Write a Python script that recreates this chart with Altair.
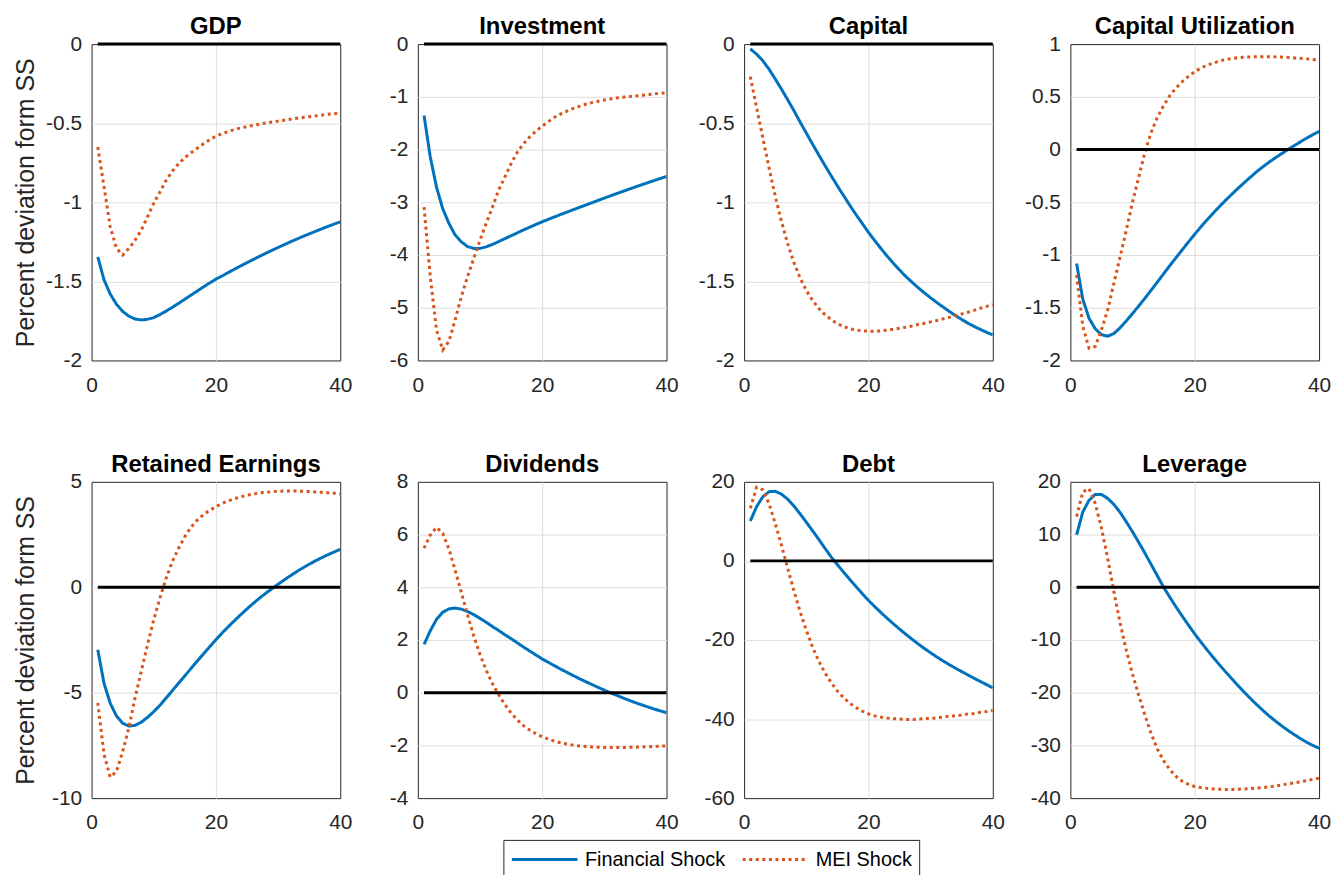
import altair as alt
import pandas as pd

x_vals = list(range(1, 41))

panels = ["GDP", "Investment", "Capital", "Capital Utilization",
          "Retained Earnings", "Dividends", "Debt", "Leverage"]

gdp_fin = [-1.345, -1.49, -1.58, -1.645, -1.69, -1.72, -1.738, -1.744, -1.74, -1.729,
           -1.71, -1.688, -1.664, -1.639, -1.613, -1.587, -1.561, -1.535, -1.510, -1.486,
           -1.466, -1.444, -1.423, -1.402, -1.382, -1.362, -1.342, -1.323, -1.304, -1.286,
           -1.268, -1.250, -1.233, -1.216, -1.200, -1.184, -1.168, -1.153, -1.138, -1.124]
gdp_mei = [-0.651, -0.90, -1.155, -1.29, -1.334, -1.292, -1.24, -1.176, -1.092, -1.007,
           -0.935, -0.861, -0.803, -0.756, -0.718, -0.687, -0.658, -0.63, -0.605, -0.582,
           -0.566, -0.552, -0.540, -0.530, -0.521, -0.513, -0.506, -0.499, -0.493, -0.487,
           -0.481, -0.475, -0.469, -0.464, -0.459, -0.454, -0.449, -0.444, -0.440, -0.436]

inv_fin = [-1.355, -2.14, -2.71, -3.12, -3.40, -3.62, -3.75, -3.84, -3.875, -3.875,
           -3.845, -3.80, -3.745, -3.69, -3.635, -3.58, -3.525, -3.472, -3.42, -3.37,
           -3.323, -3.277, -3.231, -3.186, -3.141, -3.097, -3.053, -3.009, -2.965, -2.92,
           -2.877, -2.834, -2.792, -2.75, -2.709, -2.668, -2.628, -2.588, -2.549, -2.51]
inv_mei = [-3.09, -4.41, -5.42, -5.80, -5.64, -5.23, -4.79, -4.41, -4.06, -3.72,
           -3.40, -3.09, -2.77, -2.52, -2.27, -2.05, -1.89, -1.76, -1.65, -1.556,
           -1.47, -1.386, -1.323, -1.27, -1.22, -1.18, -1.14, -1.11, -1.084, -1.06,
           -1.04, -1.02, -1.008, -0.996, -0.983, -0.97, -0.958, -0.945, -0.936, -0.926]

cap_fin = [-0.03, -0.063, -0.105, -0.158, -0.22, -0.284, -0.351, -0.42, -0.492, -0.562,
           -0.632, -0.70, -0.767, -0.832, -0.896, -0.958, -1.019, -1.078, -1.134, -1.19,
           -1.242, -1.292, -1.34, -1.385, -1.428, -1.469, -1.505, -1.54, -1.573, -1.604,
           -1.634, -1.662, -1.69, -1.716, -1.741, -1.764, -1.785, -1.804, -1.822, -1.838]
cap_mei = [-0.206, -0.40, -0.59, -0.78, -0.96, -1.12, -1.26, -1.38, -1.478, -1.557,
           -1.62, -1.67, -1.71, -1.742, -1.767, -1.786, -1.799, -1.808, -1.813, -1.815,
           -1.815, -1.813, -1.809, -1.803, -1.796, -1.79, -1.782, -1.773, -1.765, -1.756,
           -1.748, -1.737, -1.727, -1.716, -1.706, -1.695, -1.683, -1.67, -1.658, -1.645]

cu_fin = [-1.08, -1.42, -1.60, -1.70, -1.755, -1.77, -1.745, -1.69, -1.625, -1.555,
          -1.483, -1.41, -1.333, -1.256, -1.178, -1.10, -1.025, -0.95, -0.876, -0.803,
          -0.733, -0.666, -0.601, -0.539, -0.479, -0.422, -0.366, -0.312, -0.26, -0.208,
          -0.162, -0.118, -0.077, -0.038, 0.0, 0.037, 0.073, 0.108, 0.141, 0.172]
cu_mei = [-1.19, -1.678, -1.883, -1.867, -1.71, -1.52, -1.268, -1.016, -0.764, -0.497,
          -0.26, -0.024, 0.165, 0.307, 0.417, 0.512, 0.584, 0.644, 0.694, 0.738,
          0.773, 0.80, 0.82, 0.84, 0.855, 0.864, 0.871, 0.876, 0.879, 0.88,
          0.88, 0.88, 0.879, 0.877, 0.874, 0.869, 0.865, 0.86, 0.855, 0.849]

re_fin = [-2.96, -4.55, -5.5, -6.1, -6.45, -6.58, -6.55, -6.4, -6.17, -5.9,
          -5.6, -5.25, -4.9, -4.55, -4.2, -3.85, -3.5, -3.16, -2.82, -2.49,
          -2.17, -1.87, -1.58, -1.3, -1.03, -0.77, -0.52, -0.29, -0.07, 0.14,
          0.35, 0.55, 0.74, 0.92, 1.09, 1.25, 1.4, 1.54, 1.67, 1.8]
re_mei = [-5.48, -7.92, -9.0, -8.75, -7.8, -6.66, -5.24, -3.98, -2.72, -1.54,
          -0.51, 0.43, 1.22, 1.85, 2.40, 2.85, 3.18, 3.44, 3.65, 3.82,
          3.97, 4.1, 4.2, 4.29, 4.36, 4.42, 4.47, 4.5, 4.53, 4.55,
          4.56, 4.56, 4.56, 4.55, 4.54, 4.52, 4.5, 4.48, 4.46, 4.43]

div_fin = [1.83, 2.35, 2.78, 3.05, 3.18, 3.21, 3.17, 3.08, 2.96, 2.82,
           2.67, 2.51, 2.36, 2.2, 2.05, 1.89, 1.73, 1.58, 1.43, 1.28,
           1.15, 1.02, 0.89, 0.77, 0.65, 0.53, 0.42, 0.31, 0.2, 0.1,
           -0.01, -0.1, -0.2, -0.29, -0.38, -0.46, -0.54, -0.62, -0.69, -0.76]
div_mei = [5.48, 5.98, 6.27, 6.05, 5.45, 4.65, 3.8, 2.95, 2.15, 1.45,
           0.85, 0.35, -0.08, -0.45, -0.77, -1.03, -1.25, -1.42, -1.56, -1.67,
           -1.76, -1.84, -1.9, -1.95, -1.99, -2.02, -2.04, -2.06, -2.07, -2.08,
           -2.08, -2.08, -2.08, -2.07, -2.07, -2.06, -2.05, -2.04, -2.03, -2.02]

debt_fin = [10.08, 13.7, 16.2, 17.5, 17.6, 16.9, 15.6, 13.9, 11.9, 9.8,
            7.65, 5.46, 3.2, 1.0, -0.95, -2.85, -4.7, -6.5, -8.25, -10.0,
            -11.55, -13.05, -14.5, -15.9, -17.25, -18.55, -19.8, -21.0, -22.15, -23.25,
            -24.3, -25.3, -26.25, -27.15, -28.0, -28.85, -29.7, -30.5, -31.3, -32.1]
debt_mei = [13.3, 18.6, 18.0, 14.5, 9.5, 4.0, -1.8, -7.5, -12.8, -17.5,
            -21.8, -25.3, -28.3, -30.8, -32.9, -34.6, -36.0, -37.1, -38.0, -38.7,
            -39.2, -39.5, -39.75, -39.9, -40.0, -40.1, -40.1, -40.0, -39.9, -39.8,
            -39.7, -39.5, -39.3, -39.2, -39.0, -38.7, -38.6, -38.3, -38.1, -37.8]

lev_fin = [9.92, 14.3, 16.5, 17.6, 17.6, 16.85, 15.7, 14.2, 12.4, 10.5,
           8.5, 6.45, 4.3, 2.15, 0.0, -1.9, -3.75, -5.5, -7.2, -8.85,
           -10.4, -11.9, -13.35, -14.75, -16.1, -17.4, -18.7, -19.95, -21.15, -22.3,
           -23.4, -24.45, -25.4, -26.3, -27.15, -27.95, -28.7, -29.4, -30.0, -30.55]
lev_mei = [13.4, 18.1, 18.7, 15.9, 11.2, 5.5, -0.9, -6.8, -12.0, -16.5,
           -20.5, -24.3, -27.8, -30.7, -32.9, -34.6, -35.9, -36.8, -37.4, -37.8,
           -38.0, -38.15, -38.25, -38.3, -38.35, -38.35, -38.3, -38.25, -38.2, -38.1,
           -38.0, -37.85, -37.7, -37.5, -37.3, -37.1, -36.9, -36.7, -36.45, -36.2]

y_domains = [[-2, 0], [-6, 0], [-2, 0], [-2, 1], [-10, 5], [-4, 8], [-60, 20], [-40, 20]]
y_ticks = [
    [-2, -1.5, -1, -0.5, 0],
    [-6, -5, -4, -3, -2, -1, 0],
    [-2, -1.5, -1, -0.5, 0],
    [-2, -1.5, -1, -0.5, 0, 0.5, 1],
    [-10, -5, 0, 5],
    [-4, -2, 0, 2, 4, 6, 8],
    [-60, -40, -20, 0, 20],
    [-40, -30, -20, -10, 0, 10, 20],
]
x_ticks = [0, 20, 40]

series_names = ["Financial Shock", "MEI Shock"]
series_colors = ["#0072BD", "#D95319"]
y_title = "Percent deviation form SS"

fin_all = [gdp_fin, inv_fin, cap_fin, cu_fin, re_fin, div_fin, debt_fin, lev_fin]
mei_all = [gdp_mei, inv_mei, cap_mei, cu_mei, re_mei, div_mei, debt_mei, lev_mei]

rows = []
for p, fin, mei in zip(panels, fin_all, mei_all):
    for x, a, b in zip(x_vals, fin, mei):
        rows.append({"panel": p, "x": x, "value": a, "series": series_names[0]})
        rows.append({"panel": p, "x": x, "value": b, "series": series_names[1]})
        rows.append({"panel": p, "x": x, "value": 0.0, "series": "SS"})
df = pd.DataFrame(rows)

FONT = "Liberation Sans"
GRID = "#dedede"

legend = alt.Legend(
    title=None, orient="none", legendX=414, legendY=800, direction="horizontal",
    symbolType="M-3,0H3", symbolSize=484, symbolStrokeWidth=3, symbolOffset=22,
    labelFontSize=20, labelFont=FONT, labelColor="black", labelOffset=28,
    strokeColor="#262626", fillColor="white", padding=7,
    columnPadding=10,
)


def panel_chart(i, name):
    base = alt.Chart(df).transform_filter(alt.datum.panel == name)
    first_col = (i % 4 == 0)
    lo, hi = y_domains[i]
    yaxis_kwargs = dict(
        values=y_ticks[i], labelExpr="toString(datum.value)",
        labelPadding=10, grid=True,
        gridOpacity={"condition": {"test": f"datum.value <= {lo} || datum.value >= {hi}",
                                   "value": 0}, "value": 1},
    )
    if first_col:
        yaxis_kwargs.update(
            title=y_title, titleX=-58, titleY=159, titleAngle=270,
            titleAlign="center", titleBaseline="alphabetic",
            titleFontSize=25, titleFontWeight="normal", titleColor="#262626",
            titleFont=FONT,
        )
    else:
        yaxis_kwargs.update(title=None)
    xs = alt.X("x:Q", scale=alt.Scale(domain=[0, 40], nice=False, zero=False),
               axis=alt.Axis(values=x_ticks, title=None, labelPadding=14, labelFlush=False,
                             labelExpr="toString(datum.value)",
                             gridOpacity={"condition": {"test": "datum.value <= 0 || datum.value >= 40",
                                                        "value": 0}, "value": 1}))
    ys = alt.Y("value:Q", scale=alt.Scale(domain=y_domains[i], nice=False, zero=False),
               axis=alt.Axis(**yaxis_kwargs))
    lines = base.transform_filter(alt.datum.series != "SS").mark_line(
        strokeWidth=3, strokeCap="butt", clip=True
    ).encode(
        x=xs, y=ys,
        color=alt.Color("series:N", scale=alt.Scale(domain=series_names, range=series_colors),
                        legend=legend),
        strokeDash=alt.StrokeDash("series:N",
                                  scale=alt.Scale(domain=series_names, range=[[1, 0], [3, 3.6]]),
                                  legend=legend),
    )
    zero = base.transform_filter(alt.datum.series == "SS").mark_line(
        color="black", strokeWidth=3
    ).encode(x="x:Q", y="value:Q")
    return alt.layer(lines, zero).properties(
        width=250, height=318,
        title=alt.TitleParams(name, fontSize=24, fontWeight="bold", font=FONT,
                              color="black", anchor="middle", offset=-25,
                              baseline="alphabetic", frame="group"),
    )


charts = [panel_chart(i, p) for i, p in enumerate(panels)]

chart = alt.concat(
    *charts, columns=4, spacing={"row": 122, "column": 78}, bounds="flush"
).resolve_scale(
    color="shared", strokeDash="shared", x="independent", y="independent"
).resolve_legend(
    color="shared", strokeDash="shared"
).properties(
    padding={"left": 5, "top": 4, "right": 0, "bottom": 0}
).configure(
    font=FONT
).configure_view(
    stroke="#262626", strokeWidth=1
).configure_axis(
    gridColor=GRID, gridWidth=1, domain=False, ticks=False, tickSize=0,
    labelFont=FONT, labelFontSize=21, labelColor="#262626",
)

chart.save("out.html", embed_options={"renderer": "svg", "actions": False})
